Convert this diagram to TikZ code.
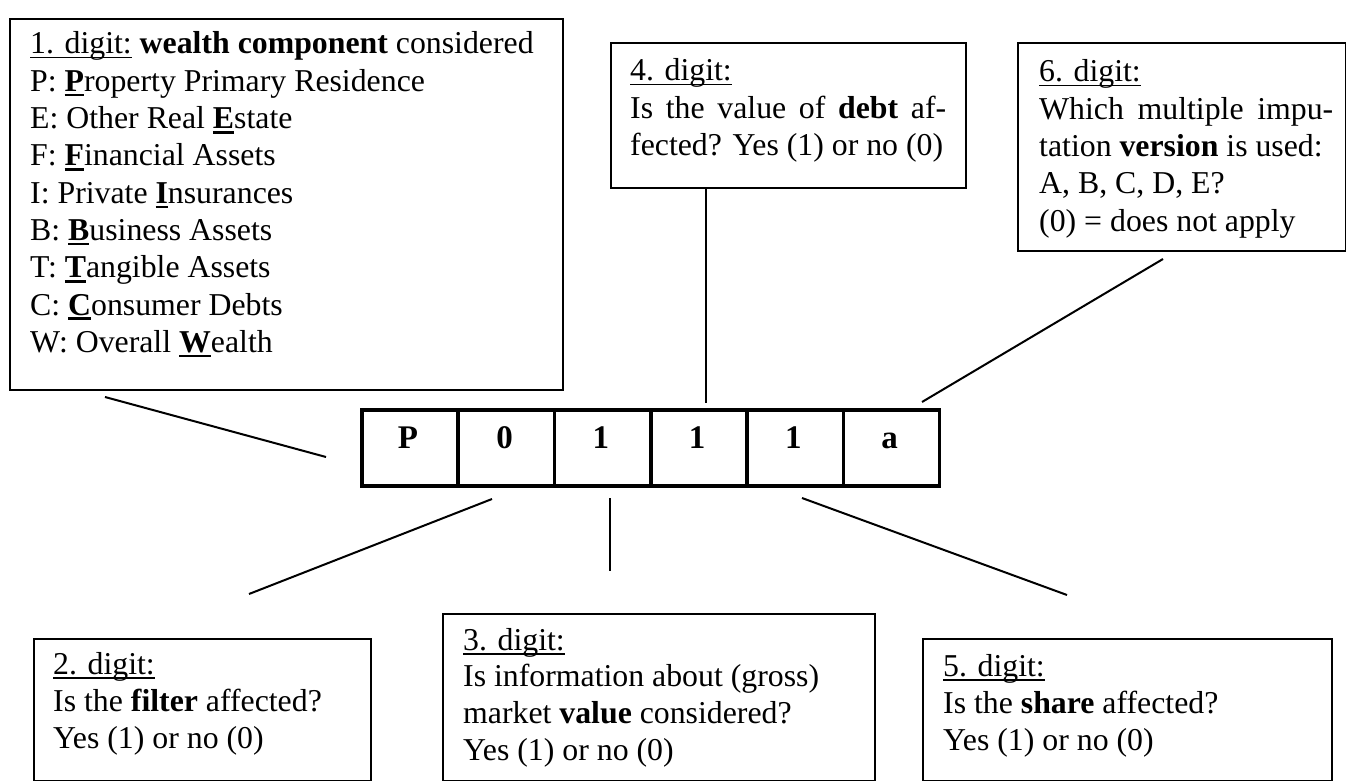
\documentclass[tikz,border=0pt]{standalone}
\usepackage{fontspec}
\setmainfont{Liberation Serif}
\newcommand\myul[1]{\leavevmode\setbox0=\hbox{#1}\rlap{\rule[-4.5pt]{\wd0}{1.6pt}}\box0\relax}
\newcommand\bul[1]{\leavevmode\setbox0=\hbox{\bfseries #1}\rlap{\rule[-5pt]{\wd0}{2.6pt}}\box0\relax}
\hbadness=10000
\hfuzz=5pt
\begin{document}
\begin{tikzpicture}[x=1pt,y=-1pt,
  every node/.style={font=\fontsize{31.8}{37.3}\selectfont},
  frame/.style={draw, line width=2pt, inner sep=0pt, anchor=north west},
  cell/.style={draw, line width=3.6pt, minimum width=96.3pt, minimum height=76pt, inner sep=0pt, anchor=north west},
  digit/.style={anchor=base, inner sep=0pt, font=\fontsize{33}{38}\selectfont\bfseries},
  lbl/.style={anchor=base west, inner sep=0pt},
  conn/.style={line width=2pt}]
\useasboundingbox (0,0) rectangle (1346,781);
% frames
\node[frame, minimum width=553pt, minimum height=371pt] (b1) at (9,18) {};
\node[frame, minimum width=355pt, minimum height=145pt] (b4) at (610,42) {};
\node[frame, minimum width=328pt, minimum height=208pt] (b6) at (1017,42) {};
\node[frame, minimum width=337pt, minimum height=142pt] (b2) at (33,638) {};
\node[frame, minimum width=432pt, minimum height=167pt] (b3) at (442,613) {};
\node[frame, minimum width=409pt, minimum height=142pt] (b5) at (922,638) {};
% texts
\node[lbl] (t1) at (30,54) {\parbox[t]{520pt}{\fontsize{31.8}{37.3}\selectfont
\myul{1. digit:} \textbf{wealth component} considered\\
P: \bul{P}roperty Primary Residence\\
E: Other Real \bul{E}state\\
F: \bul{F}inancial Assets\\
I: Private \bul{I}nsurances\\
B: \bul{B}usiness Assets\\
T: \bul{T}angible Assets\\
C: \bul{C}onsumer Debts\\
W: Overall \bul{W}ealth}};
\node[lbl] (t4) at (630,81) {\parbox[t]{316pt}{\fontsize{31.8}{37.3}\selectfont
\myul{4. digit:}\\
Is the value of \textbf{debt} af-\linebreak
fected? Yes (1) or no (0)}};
\node[lbl] (t6) at (1039,82) {\parbox[t]{294pt}{\fontsize{31.8}{37.3}\selectfont
\myul{6. digit:}\\
Which multiple impu-\linebreak
tation \textbf{version} is used:\\
A, B, C, D, E?\\
(0) = does not apply}};
\node[lbl] (t2) at (53,674) {\parbox[t]{310pt}{\fontsize{31.8}{37}\selectfont
\myul{2. digit:}\\
Is the \textbf{filter} affected?\\
Yes (1) or no (0)}};
\node[lbl] (t3) at (463,650) {\parbox[t]{400pt}{\fontsize{31.8}{36.7}\selectfont
\myul{3. digit:}\\
Is information about (gross)\\
market \textbf{value} considered?\\
Yes (1) or no (0)}};
\node[lbl] (t5) at (943,676) {\parbox[t]{380pt}{\fontsize{31.8}{37}\selectfont
\myul{5. digit:}\\
Is the \textbf{share} affected?\\
Yes (1) or no (0)}};
% code row
\node[cell] (c1) at (360,408) {};
\node[cell] (c2) at (456.3,408) {};
\node[cell] (c3) at (552.6,408) {};
\node[cell] (c4) at (648.9,408) {};
\node[cell] (c5) at (745.2,408) {};
\node[cell] (c6) at (841.5,408) {};
\node[digit] (d1) at (408,448) {P};
\node[digit] (d2) at (504.5,448) {0};
\node[digit] (d3) at (600.8,448) {1};
\node[digit] (d4) at (697.1,448) {1};
\node[digit] (d5) at (793.4,448) {1};
\node[digit] (d6) at (889.7,448) {a};
% connector ends
\coordinate (p1a) at (105,397);
\coordinate (p1b) at (326,457);
\coordinate (p4a) at (706,187);
\coordinate (p4b) at (706,403);
\coordinate (p6a) at (1163,259);
\coordinate (p6b) at (922,402);
\coordinate (p2a) at (492,499);
\coordinate (p2b) at (249,594);
\coordinate (p3a) at (610,498);
\coordinate (p3b) at (610,571);
\coordinate (p5a) at (802,498);
\coordinate (p5b) at (1067,595);
\draw[conn] (p1a) -- (p1b);
\draw[conn] (p4a) -- (p4b);
\draw[conn] (p6a) -- (p6b);
\draw[conn] (p2a) -- (p2b);
\draw[conn] (p3a) -- (p3b);
\draw[conn] (p5a) -- (p5b);
\end{tikzpicture}
\end{document}
